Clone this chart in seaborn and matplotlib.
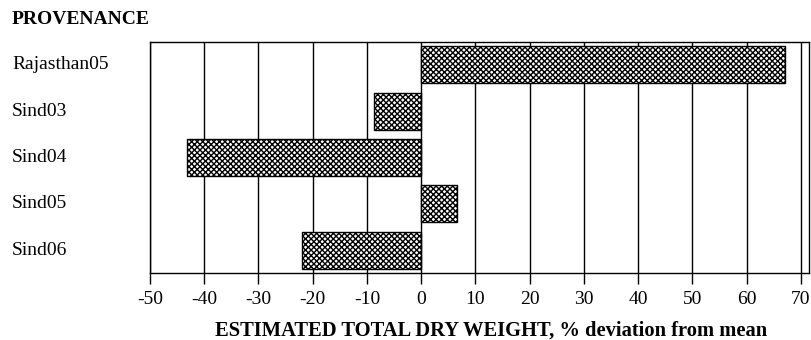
import matplotlib
matplotlib.use("Agg")
import matplotlib.pyplot as plt
import seaborn as sns
import pandas as pd

provenances = ["Rajasthan05", "Sind03", "Sind04", "Sind05", "Sind06"]
deviation = [67.0, -8.7, -43.1, 6.6, -21.9]
xticks = [-50, -40, -30, -20, -10, 0, 10, 20, 30, 40, 50, 60, 70]

sns.set_theme(style="white")
plt.rcParams["font.family"] = ["Liberation Serif", "DejaVu Serif"]
plt.rcParams["text.color"] = "black"
plt.rcParams["xtick.color"] = "black"
plt.rcParams["hatch.linewidth"] = 1.0
plt.rcParams["hatch.color"] = "black"

df = pd.DataFrame({"prov": provenances, "dev": deviation})

fig = plt.figure(figsize=(8.11, 3.40), dpi=100)
ax = fig.add_axes([150 / 811, 1 - 273.3 / 340, (809 - 150) / 811, (273.3 - 41.7) / 340])

for x in xticks:
    ax.axvline(x, color="black", lw=1.0, zorder=0)

sns.barplot(data=df, x="dev", y="prov", orient="h", color="white",
            edgecolor="black", linewidth=1.0, width=0.8, ax=ax, zorder=2)
for p in ax.patches:
    p.set_hatch("xxxxxx")
    p.set_facecolor("white")
    p.set_edgecolor("black")

ax.set_xlim(-50, 71.5)
ax.set_ylim(4.5, -0.5)
ax.set_xticks(xticks)
ax.set_xticklabels([str(t) for t in xticks], fontsize=14, color="black")
ax.tick_params(axis="x", direction="out", length=8, width=1, color="black", pad=5, bottom=True)
ax.tick_params(axis="y", length=0, pad=0)
ax.set_yticklabels([])
ax.set_xlabel("")
ax.set_ylabel("")
for s in ax.spines.values():
    s.set_color("black")
    s.set_linewidth(1.0)

for i, lab in enumerate(provenances):
    yd = ax.transData.transform((0, i))[1]
    fig.text(12 / 811, yd / 340, lab, ha="left", va="center", fontsize=14, color="black")

fig.text(12 / 811, 1 - 20 / 340, "PROVENANCE", ha="left", va="center",
         fontsize=14, fontweight="bold", color="black")
fig.text(491 / 811, 1 - 331 / 340, "ESTIMATED TOTAL DRY WEIGHT, % deviation from mean",
         ha="center", va="center", fontsize=14.8, fontweight="bold", color="black")

fig.savefig("out.png", dpi=100)
